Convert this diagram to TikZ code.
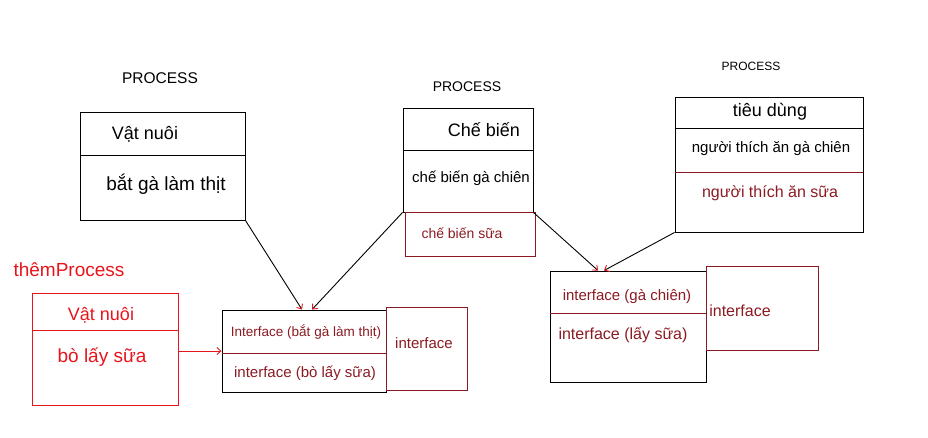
\documentclass[tikz,border=0pt]{standalone}
\usepackage{fontspec}
\setmainfont{Liberation Sans}
\usetikzlibrary{arrows.meta}
\definecolor{hred}{HTML}{E8141C}
\definecolor{dred}{HTML}{8B1A22}
\newcommand{\fs}[1]{\fontsize{#1}{#1}\selectfont}
\tikzset{
  box/.style={draw=black, line width=0.9pt, rectangle, inner sep=0pt},
  rbox/.style={draw=hred, line width=0.9pt, rectangle, inner sep=0pt},
  dbox/.style={draw=dred, line width=0.9pt, rectangle, inner sep=0pt},
  lbl/.style={inner sep=1pt},
  link/.style={line width=0.9pt, black, -{Straight Barb[color=hred,length=4pt,width=7pt]}},
}
\begin{document}
\begin{tikzpicture}[x=1pt,y=-1pt]
\useasboundingbox (0,0) rectangle (928,438);
% Box 1
\node[lbl, font=\fs{15.5}] (p1) at (160,78) {PROCESS};
\node[box, minimum width=165pt, minimum height=108pt] (b1) at (162.5,166) {};
\draw[line width=0.9pt] (b1.west |- 0,155) coordinate (b1l) -- (b1l -| b1.east);
\node[lbl, font=\fs{18}] (b1h) at (145,134) {Vật nuôi};
\node[lbl, font=\fs{19}] (b1b) at (166,184) {bắt gà làm thịt};
% Box 2
\node[lbl, font=\fs{14}] (p2) at (467,87) {PROCESS};
\node[box, minimum width=130pt, minimum height=104pt] (b2) at (468,160) {};
\draw[line width=0.9pt] (b2.west |- 0,150) coordinate (b2l) -- (b2l -| b2.east);
\node[lbl, font=\fs{18}] (b2h) at (484,130) {Chế biến};
\node[lbl, font=\fs{15}] (b2b) at (471,178) {chế biến gà chiên};
\node[dbox, minimum width=130pt, minimum height=44pt] (b2r) at (470,234) {};
\node[lbl, font=\fs{14}, text=dred] (b2rt) at (462,233) {chế biến sữa};
% Box 3
\node[lbl, font=\fs{12}] (p3) at (751,66) {PROCESS};
\node[box, minimum width=188pt, minimum height=135pt] (b3) at (769,164.5) {};
\draw[line width=0.9pt] (b3.west |- 0,128) coordinate (b3l) -- (b3l -| b3.east);
\draw[line width=0.9pt, dred] (b3.west |- 0,172) coordinate (b3m) -- (b3m -| b3.east);
\node[lbl, font=\fs{18}] (b3h) at (770,112) {tiêu dùng};
\node[lbl, font=\fs{15}] (b3b) at (771,149) {người thích ăn gà chiên};
\node[lbl, font=\fs{16}, text=dred] (b3c) at (770,193) {người thích ăn sữa};
% them process
\node[lbl, font=\fs{19}, text=hred] (tpl) at (69,270) {thêmProcess};
\node[rbox, minimum width=146pt, minimum height=112pt] (tp) at (105,349) {};
\draw[line width=0.9pt, hred] (tp.west |- 0,330) coordinate (tpm) -- (tpm -| tp.east);
\node[lbl, font=\fs{18}, text=hred] (tph) at (101,315) {Vật nuôi};
\node[lbl, font=\fs{19}, text=hred] (tpb) at (102,357) {bò lấy sữa};
% Interface 1
\node[box, minimum width=164pt, minimum height=82pt] (if1) at (304,351) {};
\draw[line width=0.9pt, dred] (if1.west |- 0,353) coordinate (if1m) -- (if1m -| if1.east);
\node[lbl, font=\fs{13.5}, text=dred] (if1a) at (306,332) {Interface (bắt gà làm thịt)};
\node[lbl, font=\fs{15}, text=dred] (if1b) at (305,373) {interface (bò lấy sữa)};
\node[dbox, minimum width=81pt, minimum height=83pt, anchor=north west] (if1r) at (386,307) {};
\node[lbl, font=\fs{15}, text=dred] (if1rt) at (424,343) {interface};
% Interface 2
\node[box, minimum width=156pt, minimum height=111pt] (if2) at (628,326.5) {};
\draw[line width=0.9pt, dred] (if2.west |- 0,313) coordinate (if2m) -- (if2m -| if2.east);
\node[lbl, font=\fs{15}, text=dred] (if2a) at (627,297) {interface (gà chiên)};
\node[lbl, font=\fs{16}, text=dred] (if2b) at (623,335) {interface (lấy sữa)};
\node[dbox, minimum width=112pt, minimum height=84pt, anchor=north west] (if2r) at (706,266) {};
\node[lbl, font=\fs{16}, text=dred] (if2rt) at (740,311) {interface};
% connectors
\draw[link] (b1.south east) -- ([xshift=-2pt]if1.north);
\draw[link] (b2.south west) -- ([xshift=8pt]if1.north);
\draw[link] (b2.south east) -- ([xshift=-30pt]if2.north);
\draw[link] (b3.south west) -- ([xshift=-24pt]if2.north);
\draw[line width=0.9pt, hred, -{Straight Barb[length=4pt,width=7pt]}] (tp.east |- if1.west) -- (if1.west);
\end{tikzpicture}
\end{document}
